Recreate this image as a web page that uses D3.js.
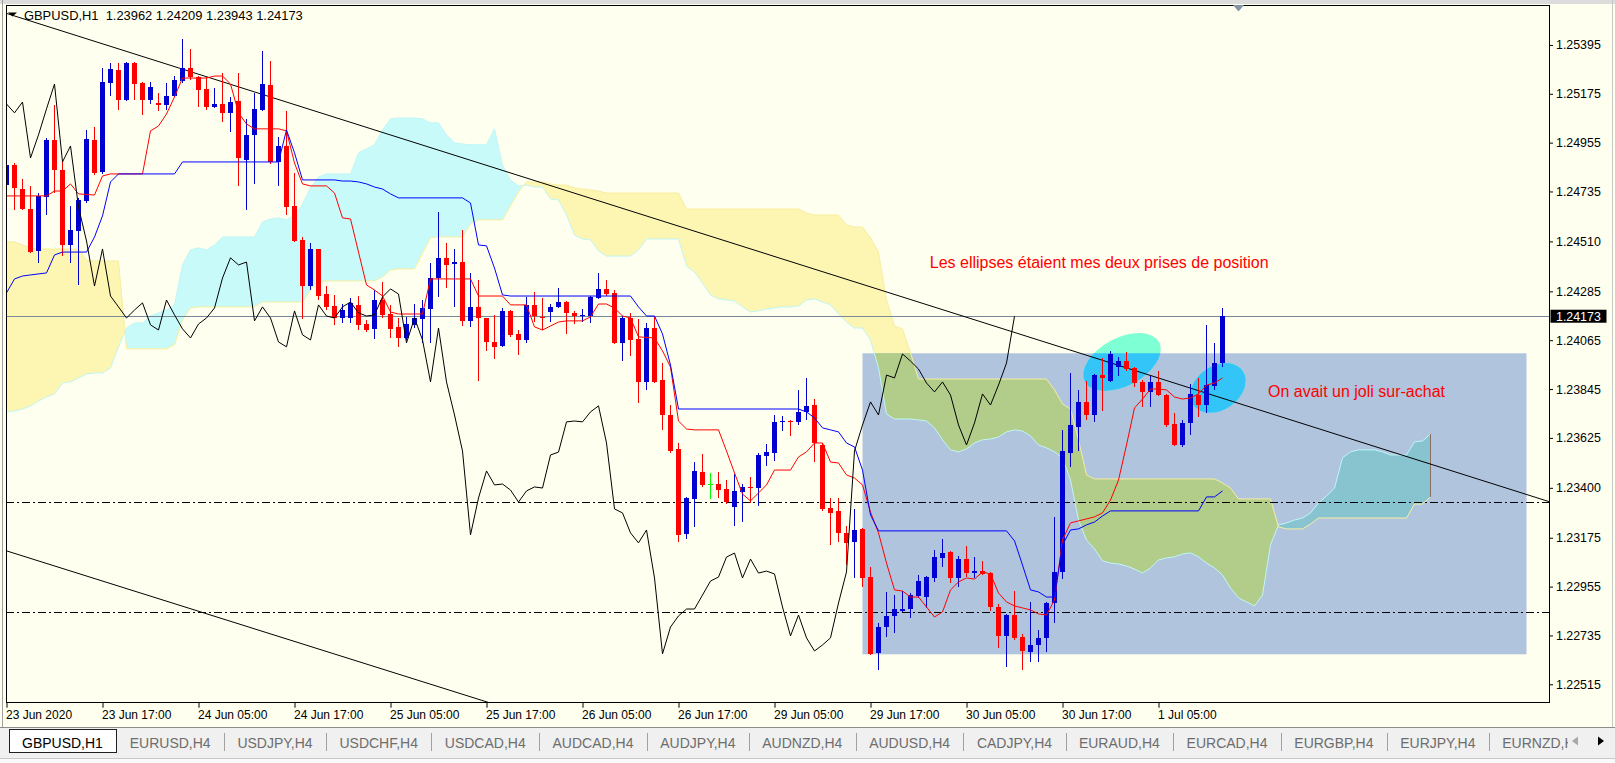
<!DOCTYPE html>
<html><head><meta charset="utf-8">
<script src="https://cdn.jsdelivr.net/npm/d3@7"></script>
<style>
html,body{margin:0;padding:0;background:#fffff0;overflow:hidden}
svg{display:block}
text{font-family:"Liberation Sans",Arial,sans-serif}
</style></head><body>
<svg id="c" width="1615" height="763"></svg>
<script>
// ---------------- DATA ----------------
const openP = [1.24764,1.24854,1.24746,1.24656,1.24467,1.24710,1.24967,1.24832,1.24494,1.24557,
1.24692,1.24967,1.24823,1.25224,1.25282,1.25147,1.25314,1.25224,1.25147,1.25134,
1.25125,1.25165,1.25233,1.25291,1.25251,1.25197,1.25116,1.25129,1.25089,1.25143,
1.24877,1.24990,1.25102,1.25215,1.24868,1.24940,1.24670,1.24517,1.24309,1.24476,
1.24273,1.24219,1.24165,1.24165,1.24224,1.24138,1.24116,1.24246,1.24183,1.24125,
1.24075,1.24134,1.24161,1.24206,1.24345,1.24436,1.24408,1.24417,1.24152,1.24215,
1.24165,1.24057,1.24039,1.24197,1.24093,1.24066,1.24224,1.24170,1.24192,1.24215,
1.24237,1.24188,1.24174,1.24174,1.24255,1.24296,1.24278,1.24053,1.24165,1.24071,
1.23877,1.24120,1.23886,1.23728,1.23575,1.23192,1.23350,1.23471,1.23417,1.23417,
1.23395,1.23314,1.23381,1.23404,1.23399,1.23543,1.23557,1.23697,1.23701,1.23697,
1.23742,1.23773,1.23593,1.23309,1.23296,1.23197,1.23156,1.23215,1.22998,1.22656,
1.22773,1.22823,1.22845,1.22854,1.22913,1.22908,1.22994,1.23084,1.23111,1.22994,
1.23079,1.23016,1.23025,1.23016,1.22863,1.22733,1.22827,1.22728,1.22661,1.22692,
1.22724,1.22881,1.23021,1.23557,1.23674,1.23787,1.23728,1.23908,1.23881,1.23944,
1.23971,1.23940,1.23877,1.23832,1.23877,1.23818,1.23688,1.23593,1.23692,1.23818,
1.23773,1.23859,1.23962];
const highP = [1.24954,1.24863,1.24791,1.24760,1.24728,1.24976,1.25125,1.24877,1.24670,1.24706,
1.25012,1.25026,1.25291,1.25314,1.25314,1.25318,1.25318,1.25228,1.25228,1.25179,
1.25224,1.25255,1.25422,1.25377,1.25255,1.25251,1.25201,1.25269,1.25161,1.25269,
1.25062,1.25179,1.25368,1.25323,1.24981,1.25098,1.24818,1.24530,1.24503,1.24476,
1.24309,1.24269,1.24228,1.24255,1.24264,1.24156,1.24291,1.24327,1.24224,1.24165,
1.24170,1.24228,1.24246,1.24413,1.24643,1.24503,1.24476,1.24562,1.24368,1.24336,
1.24165,1.24179,1.24210,1.24201,1.24111,1.24260,1.24282,1.24255,1.24228,1.24300,
1.24242,1.24197,1.24206,1.24264,1.24368,1.24336,1.24291,1.24174,1.24188,1.24161,
1.24143,1.24174,1.23962,1.23773,1.23602,1.23359,1.23516,1.23553,1.23467,1.23471,
1.23435,1.23462,1.23417,1.23449,1.23557,1.23598,1.23728,1.23724,1.23706,1.23841,
1.23895,1.23800,1.23602,1.23354,1.23354,1.23228,1.23305,1.23219,1.23043,1.22791,
1.22931,1.22917,1.22935,1.22926,1.23007,1.23003,1.23120,1.23170,1.23115,1.23093,
1.23138,1.23088,1.23070,1.23021,1.22877,1.22832,1.22935,1.22742,1.22886,1.22760,
1.22886,1.23269,1.23661,1.23917,1.23841,1.23881,1.23913,1.23985,1.24017,1.23989,
1.24012,1.23944,1.23886,1.23904,1.23926,1.23823,1.23737,1.23706,1.23868,1.23895,
1.24134,1.24053,1.24209];
const lowP = [1.24728,1.24652,1.24652,1.24458,1.24413,1.24629,1.24728,1.24445,1.24413,1.24314,
1.24683,1.24809,1.24814,1.25165,1.25102,1.25143,1.25147,1.25080,1.25129,1.25098,
1.25102,1.25161,1.25224,1.25237,1.25116,1.25102,1.25111,1.25048,1.25003,1.24760,
1.24652,1.24769,1.25098,1.24859,1.24760,1.24629,1.24507,1.24161,1.24291,1.24246,
1.24201,1.24134,1.24143,1.24143,1.24111,1.24102,1.24071,1.24165,1.24075,1.24035,
1.24066,1.24120,1.24053,1.24053,1.24260,1.24300,1.24215,1.24129,1.24125,1.23881,
1.24017,1.23981,1.24035,1.24080,1.23999,1.24053,1.24147,1.24111,1.24147,1.24210,
1.24093,1.24138,1.24147,1.24143,1.24251,1.24264,1.24048,1.23971,1.23994,1.23782,
1.23841,1.23872,1.23661,1.23557,1.23156,1.23170,1.23224,1.23404,1.23350,1.23354,
1.23327,1.23228,1.23246,1.23332,1.23318,1.23498,1.23521,1.23655,1.23633,1.23683,
1.23706,1.23516,1.23296,1.23143,1.23156,1.23052,1.22994,1.22953,1.22647,1.22579,
1.22728,1.22746,1.22841,1.22814,1.22904,1.22859,1.22976,1.23043,1.22971,1.22953,
1.22998,1.22994,1.23007,1.22845,1.22679,1.22593,1.22715,1.22579,1.22615,1.22615,
1.22661,1.22791,1.22989,1.23494,1.23566,1.23706,1.23697,1.23746,1.23877,1.23904,
1.23926,1.23854,1.23764,1.23764,1.23814,1.23674,1.23588,1.23584,1.23638,1.23719,
1.23737,1.23841,1.23943];
const closeP = [1.24854,1.24751,1.24656,1.24462,1.24715,1.24967,1.24832,1.24494,1.24562,1.24697,
1.24972,1.24818,1.25228,1.25287,1.25147,1.25314,1.25219,1.25147,1.25206,1.25125,
1.25165,1.25237,1.25291,1.25251,1.25192,1.25116,1.25129,1.25089,1.25138,1.24886,
1.24990,1.25107,1.25219,1.24868,1.24940,1.24665,1.24512,1.24309,1.24476,1.24264,
1.24215,1.24165,1.24201,1.24233,1.24134,1.24111,1.24246,1.24179,1.24116,1.24075,
1.24138,1.24165,1.24210,1.24345,1.24436,1.24404,1.24417,1.24152,1.24215,1.24165,
1.24057,1.24035,1.24197,1.24089,1.24066,1.24224,1.24174,1.24165,1.24215,1.24237,
1.24188,1.24174,1.24179,1.24260,1.24296,1.24273,1.24053,1.24165,1.24066,1.23877,
1.24120,1.23877,1.23728,1.23566,1.23188,1.23354,1.23476,1.23413,1.23417,1.23390,
1.23336,1.23386,1.23404,1.23399,1.23548,1.23561,1.23697,1.23701,1.23697,1.23742,
1.23769,1.23602,1.23305,1.23287,1.23197,1.23152,1.23210,1.22994,1.22652,1.22773,
1.22823,1.22854,1.22854,1.22917,1.22980,1.22998,1.23088,1.23106,1.22994,1.23079,
1.23016,1.23025,1.23012,1.22863,1.22733,1.22827,1.22724,1.22665,1.22692,1.22724,
1.22881,1.23021,1.23566,1.23683,1.23787,1.23728,1.23908,1.23895,1.24003,1.23971,
1.23935,1.23872,1.23832,1.23877,1.23818,1.23683,1.23593,1.23692,1.23823,1.23773,
1.23863,1.23962,1.24173];

// Tenkan-sen (red) [bar, price]
const tenkan = [[0,1.24715],[5,1.24715],[6,1.24737],[7,1.24737],[8,1.24769],[9,1.24724],[11,1.24719],[12,1.24805],[13,1.24814],[17,1.24814],[18,1.25008],[19,1.25030],[20,1.25084],[21,1.25161],[22,1.25246],[25,1.25246],[26,1.25255],[27,1.25255],[28,1.25219],[29,1.25089],[30,1.25039],[31,1.25017],[34,1.25017],[35,1.25008],[36,1.24863],[37,1.24769],[38,1.24760],[40,1.24760],[41,1.24728],[42,1.24616],[43,1.24611],[44,1.24462],[45,1.24314],[46,1.24291],[47,1.24264],[48,1.24192],[49,1.24183],[52,1.24183],[53,1.24341],[58,1.24341],[59,1.24264],[62,1.24264],[63,1.24224],[65,1.24224],[66,1.24125],[67,1.24111],[68,1.24129],[69,1.24147],[70,1.24152],[72,1.24152],[73,1.24170],[74,1.24228],[75,1.24228],[76,1.24210],[77,1.24174],[78,1.24165],[79,1.24080],[81,1.24075],[82,1.24017],[83,1.23944],[84,1.23701],[85,1.23665],[86,1.23661],[89,1.23661],[90,1.23566],[91,1.23467],[92,1.23372],[93,1.23341],[94,1.23377],[95,1.23413],[96,1.23480],[98,1.23480],[99,1.23539],[100,1.23562],[101,1.23602],[102,1.23602],[103,1.23516],[104,1.23512],[105,1.23458],[106,1.23444],[107,1.23413],[108,1.23291],[109,1.23197],[110,1.23061],[111,1.22940],[112,1.22935],[113,1.22908],[114,1.22908],[115,1.22863],[116,1.22818],[117,1.22841],[118,1.22940],[119,1.22976],[120,1.22994],[121,1.22989],[122,1.23021],[123,1.23012],[124,1.22926],[125,1.22886],[126,1.22868],[127,1.22859],[128,1.22850],[129,1.22832],[130,1.22827],[131,1.22895],[132,1.23165],[133,1.23242],[134,1.23251],[135,1.23260],[136,1.23269],[137,1.23287],[138,1.23345],[139,1.23435],[140,1.23593],[141,1.23760],[142,1.23800],[143,1.23845],[144,1.23845],[145,1.23841],[146,1.23809],[147,1.23800],[148,1.23805],[149,1.23823],[150,1.23863],[151,1.23872],[152,1.23895]];
// Kijun-sen (blue) [bar, price]
const kijun = [[0,1.24278],[1,1.24341],[2,1.24354],[3,1.24359],[5,1.24368],[6,1.24449],[7,1.24462],[10,1.24462],[11,1.24530],[12,1.24625],[13,1.24778],[14,1.24814],[21,1.24814],[22,1.24868],[34,1.24868],[35,1.25012],[36,1.24909],[37,1.24787],[41,1.24787],[42,1.24782],[43,1.24782],[44,1.24778],[45,1.24769],[46,1.24755],[47,1.24746],[48,1.24724],[49,1.24706],[57,1.24706],[58,1.24683],[59,1.24494],[60,1.24490],[61,1.24390],[62,1.24269],[63,1.24264],[78,1.24264],[79,1.24215],[80,1.24174],[81,1.24174],[82,1.24093],[83,1.23953],[84,1.23755],[99,1.23755],[100,1.23742],[101,1.23715],[102,1.23670],[103,1.23661],[104,1.23652],[105,1.23602],[106,1.23584],[107,1.23480],[108,1.23278],[109,1.23206],[125,1.23206],[126,1.23161],[127,1.23052],[128,1.22940],[129,1.22931],[130,1.22908],[131,1.22908],[132,1.23143],[133,1.23210],[134,1.23215],[135,1.23233],[136,1.23246],[137,1.23273],[138,1.23296],[149,1.23296],[150,1.23359],[151,1.23359],[152,1.23386]];
const chikouShift = 26;
// Senkou span A / B, one value per bar (bars 0..178)
const spanA = [1.23742,1.23746,1.23755,1.23769,1.23791,1.23809,1.23823,1.23872,1.23877,1.23895,
1.23913,1.23917,1.23917,1.23940,1.24035,1.24120,1.24143,1.24143,1.24174,1.24188,
1.24201,1.24224,1.24404,1.24472,1.24481,1.24472,1.24494,1.24530,1.24530,1.24530,
1.24530,1.24530,1.24598,1.24611,1.24616,1.24607,1.24629,1.24679,1.24751,1.24800,
1.24814,1.24814,1.24814,1.24814,1.24909,1.24927,1.24945,1.25012,1.25062,1.25066,
1.25066,1.25066,1.25062,1.25044,1.25044,1.24990,1.24954,1.24949,1.24945,1.24945,
1.24945,1.25017,1.24854,1.24787,1.24760,1.24764,1.24755,1.24755,1.24701,1.24697,
1.24629,1.24539,1.24521,1.24517,1.24467,1.24444,1.24444,1.24444,1.24444,1.24472,
1.24521,1.24521,1.24521,1.24521,1.24521,1.24399,1.24372,1.24323,1.24269,1.24251,
1.24246,1.24242,1.24215,1.24192,1.24197,1.24206,1.24210,1.24215,1.24215,1.24219,
1.24246,1.24251,1.24237,1.24224,1.24183,1.24147,1.24120,1.24120,1.24066,1.23940,
1.23733,1.23710,1.23710,1.23710,1.23706,1.23701,1.23670,1.23616,1.23571,1.23562,
1.23575,1.23602,1.23616,1.23620,1.23629,1.23652,1.23661,1.23656,1.23634,1.23593,
1.23580,1.23562,1.23535,1.23435,1.23255,1.23165,1.23125,1.23071,1.23061,1.23057,
1.23048,1.23034,1.23016,1.23039,1.23075,1.23084,1.23089,1.23102,1.23107,1.23089,
1.23061,1.23039,1.23007,1.22949,1.22904,1.22886,1.22868,1.22917,1.23143,1.23233,
1.23242,1.23255,1.23264,1.23287,1.23332,1.23363,1.23399,1.23535,1.23562,1.23571,
1.23571,1.23571,1.23562,1.23548,1.23548,1.23548,1.23607,1.23611,1.23643];
const spanB = [1.24508,1.24508,1.24494,1.24481,1.24476,1.24476,1.24476,1.24476,1.24476,1.24476,
1.24426,1.24422,1.24422,1.24422,1.24422,1.24026,1.24026,1.24026,1.24026,1.24026,
1.24026,1.24044,1.24156,1.24210,1.24215,1.24215,1.24215,1.24215,1.24215,1.24215,
1.24215,1.24215,1.24237,1.24237,1.24237,1.24237,1.24237,1.24237,1.24291,1.24327,
1.24332,1.24332,1.24332,1.24332,1.24332,1.24332,1.24332,1.24350,1.24381,1.24386,
1.24386,1.24386,1.24458,1.24526,1.24530,1.24530,1.24530,1.24530,1.24589,1.24607,
1.24607,1.24607,1.24607,1.24670,1.24733,1.24778,1.24778,1.24778,1.24769,1.24764,
1.24764,1.24751,1.24746,1.24742,1.24737,1.24728,1.24728,1.24728,1.24728,1.24728,
1.24728,1.24728,1.24728,1.24728,1.24728,1.24656,1.24656,1.24656,1.24656,1.24656,
1.24656,1.24656,1.24656,1.24656,1.24656,1.24656,1.24656,1.24656,1.24656,1.24656,
1.24638,1.24629,1.24629,1.24629,1.24629,1.24584,1.24575,1.24575,1.24526,1.24462,
1.24246,1.24129,1.24116,1.24008,1.23890,1.23890,1.23890,1.23890,1.23890,1.23890,
1.23890,1.23890,1.23890,1.23890,1.23890,1.23890,1.23890,1.23890,1.23890,1.23890,
1.23890,1.23841,1.23778,1.23755,1.23616,1.23458,1.23440,1.23440,1.23440,1.23440,
1.23440,1.23440,1.23440,1.23440,1.23440,1.23440,1.23440,1.23440,1.23440,1.23440,
1.23440,1.23440,1.23422,1.23399,1.23350,1.23350,1.23350,1.23350,1.23350,1.23224,
1.23215,1.23215,1.23215,1.23237,1.23264,1.23264,1.23264,1.23264,1.23264,1.23264,
1.23264,1.23264,1.23264,1.23264,1.23264,1.23264,1.23327,1.23327,1.23359];

const priceTicks = [1.25395,1.25175,1.24955,1.24735,1.24510,1.24285,1.24065,1.23845,1.23625,1.23400,1.23175,1.22955,1.22735,1.22515];
const timeTickBars = [0,12,24,36,48,60,72,84,96,108,120,132,144];
const timeTickLabels = ["23 Jun 2020","23 Jun 17:00","24 Jun 05:00","24 Jun 17:00","25 Jun 05:00","25 Jun 17:00","26 Jun 05:00","26 Jun 17:00","29 Jun 05:00","29 Jun 17:00","30 Jun 05:00","30 Jun 17:00","1 Jul 05:00"];
const levels = [1.23335, 1.22842];
const bidPrice = 1.24173;
const trendLines = [{b1:0,p1:1.25537,b2:190,p2:1.23370},{b1:0,p1:1.23116,b2:60,p2:1.22436}];
const zone = {b1:107,b2:190,p1:1.24006,p2:1.22650};
const ellipses = [{bar:139.44,price:1.23967,a:5.25,b:3.0,angle:-28},{bar:151.44,price:1.23850,a:3.75,b:2.75,angle:-35}];
const notes = [{bar:115.41,price:1.24390,text:"Les ellipses étaient mes deux prises de position"},
               {bar:157.69,price:1.23809,text:"On avait un joli sur-achat"}];
const header = {symbol:"GBPUSD,H1", values:[1.23962,1.24209,1.23943,1.24173]};
const tabs = ["GBPUSD,H1","EURUSD,H4","USDJPY,H4","USDCHF,H4","USDCAD,H4","AUDCAD,H4","AUDJPY,H4","AUDNZD,H4","AUDUSD,H4","CADJPY,H4","EURAUD,H4","EURCAD,H4","EURGBP,H4","EURJPY,H4","EURNZD,H4"];

// ---------------- DRAW ----------------
const W = 1615, H = 763;
const plot = {l:6, r:1549, t:5, b:702.7};
const xS = d3.scaleLinear().domain([-0.0625, 192.8125]).range([plot.l, plot.r]);
const yS = d3.scaleLinear().domain([1.22432, 1.25575]).range([plot.b, plot.t]);
const svg = d3.select('#c');
const defs = svg.append('defs');

svg.append('rect').attr('width',W).attr('height',H).attr('fill','#fffff0');
svg.append('rect').attr('x',0).attr('y',0).attr('width',W).attr('height',4).attr('fill','#dcdcdc');
svg.append('line').attr('x1',2.5).attr('x2',2.5).attr('y1',0).attr('y2',727).attr('stroke','#a0a0a0');

defs.append('clipPath').attr('id','plotClip').append('rect')
  .attr('x',plot.l).attr('y',plot.t).attr('width',plot.r-plot.l).attr('height',plot.b-plot.t);
const zx1 = xS(zone.b1), zx2 = xS(zone.b2), zy1 = yS(zone.p1), zy2 = yS(zone.p2);
defs.append('clipPath').attr('id','zoneClip').append('rect')
  .attr('x',zx1).attr('y',zy1).attr('width',zx2-zx1).attr('height',zy2-zy1);

const idx = d3.range(spanA.length);
const areaAB = d3.area().x(i=>xS(i)).y0(i=>yS(spanA[i])).y1(i=>yS(spanB[i]));
defs.append('clipPath').attr('id','upB').append('path')
  .attr('d', d3.area().x(i=>xS(i)).y0(0).y1(i=>yS(spanB[i]))(idx));
defs.append('clipPath').attr('id','dnB').append('path')
  .attr('d', d3.area().x(i=>xS(i)).y0(i=>yS(spanB[i])).y1(H)(idx));

const g = svg.append('g').attr('clip-path','url(#plotClip)');
function cloud(parent, bull, bear){
  parent.append('g').attr('clip-path','url(#upB)').append('path').attr('d',areaAB(idx)).attr('fill',bull);
  parent.append('g').attr('clip-path','url(#dnB)').append('path').attr('d',areaAB(idx)).attr('fill',bear);
}
cloud(g, '#c8fafa', '#fdf5b2');
g.append('rect').attr('x',zx1).attr('y',zy1).attr('width',zx2-zx1).attr('height',zy2-zy1).attr('fill','#b0c4de');
const gz = g.append('g').attr('clip-path','url(#zoneClip)');
cloud(gz, '#88c4d0', '#b2cc8a');

// ellipses
const gE = g.append('g');
const gEz = g.append('g').attr('clip-path','url(#zoneClip)');
ellipses.forEach(e=>{
  const cx = xS(e.bar), cy = yS(e.price), rx = xS(e.a)-xS(0), ry = xS(e.b)-xS(0);
  [[gE,'#7fffd4'],[gEz,'#33c5f8']].forEach(([p,c])=>{
    p.append('ellipse').attr('cx',cx).attr('cy',cy).attr('rx',rx).attr('ry',ry)
      .attr('transform',`rotate(${e.angle},${cx},${cy})`).attr('fill',c);
  });
});

// span lines
g.append('path').attr('d', d3.line().x(i=>xS(i)).y(i=>yS(spanA[i]))(idx)).attr('fill','none').attr('stroke','#bff6f6').attr('stroke-width',1);
g.append('path').attr('d', d3.line().x(i=>xS(i)).y(i=>yS(spanB[i]))(idx)).attr('fill','none').attr('stroke','#f7ee9e').attr('stroke-width',1);
const last = spanA.length-1;
g.append('line').attr('x1',Math.floor(xS(last))+0.5).attr('x2',Math.floor(xS(last))+0.5)
  .attr('y1',yS(spanA[last])).attr('y2',yS(spanB[last])).attr('stroke','#8a6e60');

// horizontal levels
levels.forEach(p=>{
  const y = Math.round(yS(p))+0.5;
  g.append('line').attr('x1',plot.l).attr('x2',plot.r).attr('y1',y).attr('y2',y)
    .attr('stroke','#000').attr('stroke-dasharray','8,3,2,3').attr('shape-rendering','crispEdges');
});
// bid line
{ const y = Math.round(yS(bidPrice))+0.5;
  g.append('line').attr('x1',plot.l).attr('x2',plot.r).attr('y1',y).attr('y2',y).attr('stroke','#778899').attr('shape-rendering','crispEdges'); }

// trend lines (extended across chart)
trendLines.forEach(t=>{
  const x1 = xS(t.b1), y1 = yS(t.p1), x2 = xS(t.b2), y2 = yS(t.p2);
  const m = (y2-y1)/(x2-x1);
  g.append('line').attr('x1',plot.l).attr('y1',y1+m*(plot.l-x1)).attr('x2',plot.r).attr('y2',y1+m*(plot.r-x1))
    .attr('stroke','#000').attr('stroke-width',1);
});

// candles
const gc = g.append('g').attr('shape-rendering','crispEdges');
openP.forEach((o,i)=>{
  const c = closeP[i];
  const col = c>o ? '#0000d0' : (c<o ? '#ff0000' : '#00ff00');
  const x = Math.floor(xS(i))+0.5;
  gc.append('line').attr('x1',x).attr('x2',x).attr('y1',yS(highP[i])).attr('y2',yS(lowP[i])).attr('stroke',col);
  const yT = Math.round(yS(Math.max(o,c))), yB = Math.round(yS(Math.min(o,c)));
  if (c===o) {
    gc.append('line').attr('x1',x-2.5).attr('x2',x+2.5).attr('y1',yT+0.5).attr('y2',yT+0.5).attr('stroke',col);
  } else {
    gc.append('rect').attr('x',x-2.5).attr('width',5).attr('y',yT).attr('height',Math.max(1,yB-yT)).attr('fill',col);
  }
});

// indicator lines
const lineP = d3.line().x(d=>xS(d[0])).y(d=>yS(d[1]));
g.append('path').attr('d',lineP(tenkan)).attr('fill','none').attr('stroke','#ff0000').attr('stroke-width',1);
g.append('path').attr('d',lineP(kijun)).attr('fill','none').attr('stroke','#0000ff').attr('stroke-width',1);
const chikou = d3.range(0, closeP.length-chikouShift).map(i=>[i, closeP[i+chikouShift]]);
g.append('path').attr('d',lineP(chikou)).attr('fill','none').attr('stroke','#000').attr('stroke-width',1);

// notes
notes.forEach(n=>{
  g.append('text').attr('x',xS(n.bar)).attr('y',yS(n.price)).attr('fill','#ff0000')
    .style('font-size','16px').text(n.text);
});

// plot border
svg.append('rect').attr('x',plot.l+0.5).attr('y',plot.t+0.5).attr('width',plot.r-plot.l-0.5).attr('height',plot.b-plot.t-0.5)
  .attr('fill','none').attr('stroke','#000').attr('shape-rendering','crispEdges');

// price axis
const yAx = svg.append('g').attr('transform',`translate(${plot.r},0)`)
  .call(d3.axisRight(yS).tickValues(priceTicks).tickSize(4).tickPadding(3).tickFormat(d3.format('.5f')));
yAx.select('.domain').remove();
yAx.selectAll('text').style('font-size','12.4px').style('font-family','"Liberation Sans",Arial,sans-serif').attr('fill','#000');
yAx.selectAll('line').attr('stroke','#000');
// bid label
{ const y = yS(bidPrice);
  svg.append('rect').attr('x',plot.r+1.5).attr('y',y-6.5).attr('width',56).attr('height',13).attr('fill','#000');
  svg.append('text').attr('x',plot.r+7).attr('y',y).attr('dy','0.35em').attr('fill','#fff').style('font-size','12.4px').text(d3.format('.5f')(bidPrice)); }

// time axis
const xAx = svg.append('g').attr('transform',`translate(0,${plot.b})`)
  .call(d3.axisBottom(xS).tickValues(timeTickBars).tickSize(5).tickPadding(3).tickFormat((d,i)=>timeTickLabels[i]));
xAx.select('.domain').remove();
xAx.selectAll('text').attr('text-anchor','start').attr('dx','-1').style('font-size','12px').style('font-family','"Liberation Sans",Arial,sans-serif').attr('fill','#000');
xAx.selectAll('line').attr('stroke','#000');

// header
svg.append('path').attr('d','M8,12.5 L17,12.5 L12.5,16.5 Z').attr('fill','#000');
svg.append('text').attr('x',24).attr('y',20).attr('xml:space','preserve').style('white-space','pre').style('font-size','12.9px').attr('fill','#000')
  .text(header.symbol + '  ' + header.values.map(v=>v.toFixed(5)).join(' '));
// chart shift marker
svg.append('path').attr('d','M1233,5 L1244,5 L1238.5,11.5 Z').attr('fill','#8494a6');

// tabs
svg.append('rect').attr('x',0).attr('y',727).attr('width',W).attr('height',36).attr('fill','#f0f0f0');
svg.append('line').attr('x1',0).attr('x2',W).attr('y1',727.5).attr('y2',727.5).attr('stroke','#8c8c8c');
svg.append('line').attr('x1',0).attr('x2',W).attr('y1',758.5).attr('y2',758.5).attr('stroke','#c8c8c8');
svg.append('rect').attr('x',0).attr('y',759).attr('width',W).attr('height',4).attr('fill','#fafafa');
defs.append('clipPath').attr('id','tabClip').append('rect').attr('x',0).attr('y',720).attr('width',1568).attr('height',43);
const gt = svg.append('g').attr('clip-path','url(#tabClip)');
let tx = 8.6;
tabs.forEach((name,i)=>{
  const t = gt.append('text').attr('y',747.5).style('font-size','14px').attr('fill', i===0?'#000':'#6d6d6d').text(name);
  const len = t.node().getComputedTextLength();
  const w = len + 26.8;
  if (i===0) {
    gt.insert('rect','text').attr('x',tx+0.5).attr('y',729).attr('width',w).attr('height',23.5).attr('fill','#fff').attr('stroke','#202020').attr('shape-rendering','crispEdges');
  } else {
    gt.append('line').attr('x1',Math.round(tx+w)+0.5).attr('x2',Math.round(tx+w)+0.5).attr('y1',733).attr('y2',751).attr('stroke','#a0a0a0');
  }
  t.attr('x', tx+13.4);
  tx += w;
});
svg.append('path').attr('d','M1572,741 L1578,736.5 L1578,745.5 Z').attr('fill','#a8a8a8');
svg.append('path').attr('d','M1604,741 L1598,736.5 L1598,745.5 Z').attr('fill','#000');
svg.append('line').attr('x1',1612.5).attr('x2',1612.5).attr('y1',0).attr('y2',727).attr('stroke','#c8c8c8');
</script>
</body></html>
